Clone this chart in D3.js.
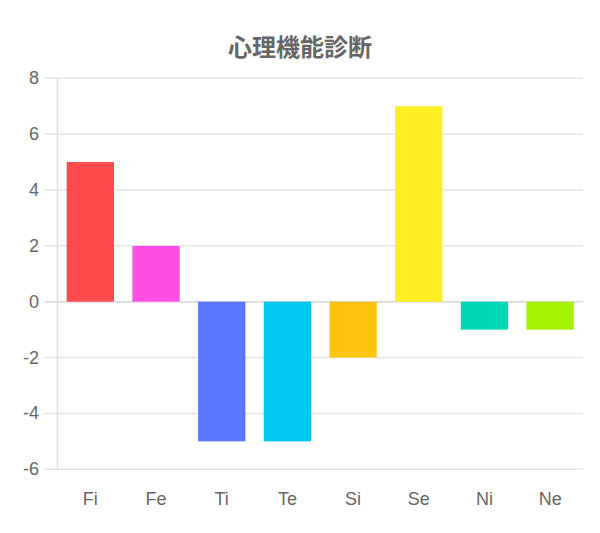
<!DOCTYPE html>
<html><head><meta charset="utf-8">
<script src="https://cdn.jsdelivr.net/npm/d3@7"></script>
<style>body{margin:0;background:#fff}</style>
</head><body>
<svg id="c" width="600" height="533"></svg>
<script>
const title = "心理機能診断";
const categories = ["Fi","Fe","Ti","Te","Si","Se","Ni","Ne"];
const values = [5, 2, -5, -5, -2, 7, -1, -1];
const colors = ["#ff4a4d","#ff4fe2","#5a78ff","#00c8f0","#ffc312","#ffef22","#00d9b6","#a4f200"];
const yTicks = [8,6,4,2,0,-2,-4,-6];

(function(){
const svg = d3.select("#c");
const mLeft = 57.5, mRight = 583, mTop = 78.3, mBottom = 469.3;
const x = d3.scaleBand().domain(categories).range([mLeft, mRight]).paddingInner(0).paddingOuter(0);
const y = d3.scaleLinear().domain([-6, 8]).range([mBottom, mTop]);
const font = "Helvetica, 'Liberation Sans', Arial, sans-serif";

svg.append("text").attr("x", 300).attr("y", 45).attr("text-anchor","middle")
  .attr("dominant-baseline","central").attr("font-family","'Noto Sans CJK JP', sans-serif")
  .attr("font-weight","bold").attr("font-size",24).attr("fill","#666").text(title);

const grid = svg.append("g");
grid.selectAll("line").data(yTicks).join("line")
  .attr("x1", mLeft - 13).attr("x2", mRight)
  .attr("y1", d => y(d)).attr("y2", d => y(d))
  .attr("stroke", d => d === 0 ? "#d8d8d8" : "#e6e6e6").attr("stroke-width", 1.5);
svg.append("line").attr("x1", mLeft).attr("x2", mLeft).attr("y1", mTop).attr("y2", mBottom + 1)
  .attr("stroke","#e0e0e0").attr("stroke-width",1.5);

svg.append("g").selectAll("text").data(yTicks).join("text")
  .attr("x", 39).attr("y", d => y(d)).attr("text-anchor","end").attr("dominant-baseline","central")
  .attr("font-family", font).attr("font-size", 18).attr("fill","#666").text(d => d);

const bw = x.bandwidth() * 0.72;
svg.append("g").selectAll("rect").data(values).join("rect")
  .attr("x", (d,i) => x(categories[i]) + (x.bandwidth() - bw)/2)
  .attr("width", bw)
  .attr("y", d => y(Math.max(0,d)))
  .attr("height", d => Math.abs(y(d) - y(0)))
  .attr("fill", (d,i) => colors[i]);

svg.append("g").selectAll("text").data(categories).join("text")
  .attr("x", d => x(d) + x.bandwidth()/2).attr("y", 499).attr("text-anchor","middle")
  .attr("dominant-baseline","central").attr("font-family", font).attr("font-size", 18)
  .attr("fill","#666").text(d => d);
})();
</script>
</body></html>
